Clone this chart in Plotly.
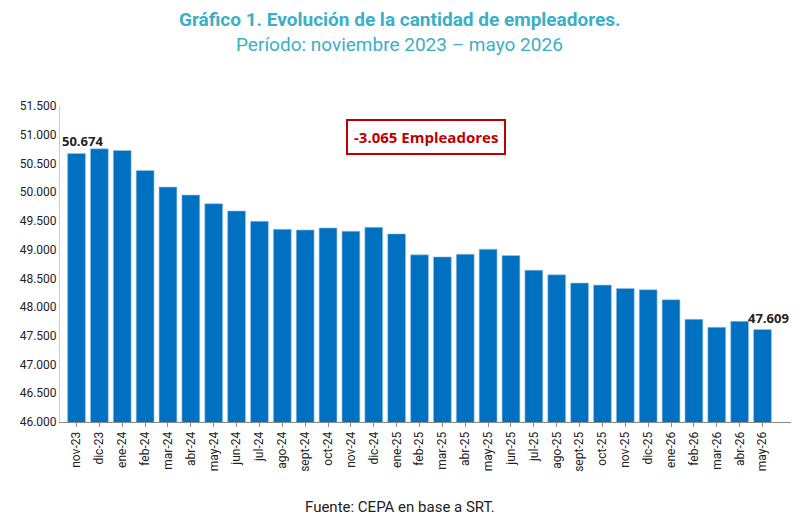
import plotly.graph_objects as go

meses = ["nov-23", "dic-23", "ene-24", "feb-24", "mar-24", "abr-24", "may-24", "jun-24",
         "jul-24", "ago-24", "sept-24", "oct-24", "nov-24", "dic-24", "ene-25", "feb-25",
         "mar-25", "abr-25", "may-25", "jun-25", "jul-25", "ago-25", "sept-25", "oct-25",
         "nov-25", "dic-25", "ene-26", "feb-26", "mar-26", "abr-26", "may-26"]
empleadores = [50674, 50754, 50725, 50378, 50089, 49950, 49800, 49673,
               49493, 49354, 49343, 49378, 49320, 49389, 49274, 48909,
               48874, 48921, 49008, 48898, 48643, 48562, 48418, 48383,
               48325, 48302, 48128, 47787, 47648, 47752, 47609]

fig = go.Figure()
fig.add_trace(go.Bar(
    x=meses, y=empleadores,
    marker=dict(color="#0070C0", line=dict(color="#9DC3E6", width=0.6)),
    width=0.78,
))

# etiquetas de primer y último valor
for i in (0, len(meses) - 1):
    fig.add_annotation(
        x=meses[i], y=empleadores[i], text="<b>" + f"{empleadores[i]:,}".replace(",", ".") + "</b>",
        showarrow=False, yanchor="bottom", yshift=1, xshift=6,
        font=dict(family="Open Sans", size=13, color="#222222"),
    )

fig.add_annotation(
    text="<b>-3.065 Empleadores</b>", xref="paper", yref="paper",
    x=0.5, y=0.958, showarrow=False,
    font=dict(family="Open Sans", size=15, color="#C00000"),
    bordercolor="#C00000", borderwidth=2, borderpad=6, bgcolor="white",
)
# título en dos líneas
fig.add_annotation(
    text="<b>Gráfico 1. Evolución de la cantidad de empleadores.</b>", xref="paper", yref="paper",
    x=0.465, y=1.317, showarrow=False,
    font=dict(family="Roboto", size=19, color="#3AAFC7"),
)
fig.add_annotation(
    text="Período: noviembre 2023 – mayo 2026", xref="paper", yref="paper",
    x=0.465, y=1.238, showarrow=False,
    font=dict(family="Roboto", size=19, color="#3AAFC7"),
)
fig.add_annotation(
    text="Fuente: CEPA en base a SRT.", xref="paper", yref="paper",
    x=0.465, y=-0.304, showarrow=False,
    font=dict(family="Roboto", size=15, color="#222222"),
)

fig.update_layout(
    width=800, height=522,
    paper_bgcolor="white", plot_bgcolor="white",
    separators=",.",
    margin=dict(l=52, r=17, t=98, b=108),
    showlegend=False,
)
fig.update_xaxes(
    tickangle=-90, tickfont=dict(family="Roboto", size=12, color="#222222"),
    showline=True, linecolor="#888888", ticks="outside", ticklen=4, tickcolor="#888888",
)
fig.update_yaxes(
    range=[46000, 51500], dtick=500, tickformat=",d",
    tickfont=dict(family="Roboto", size=12, color="#222222"),
    showgrid=False, showline=True, linecolor="#cccccc", zeroline=False,
)

fig.write_html("out.html")
